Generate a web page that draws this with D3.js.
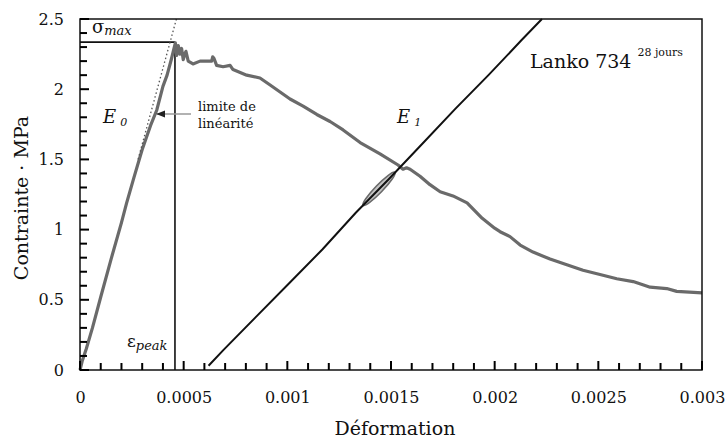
<!DOCTYPE html>
<html><head><meta charset="utf-8">
<script src="https://cdn.jsdelivr.net/npm/d3@7"></script>
<style>
html,body{margin:0;padding:0;background:#fff;}
text{font-family:"DejaVu Serif",serif;fill:#111;}
</style></head>
<body><svg id="c" width="727" height="442"></svg>
<script>
// ---- data ----
const xTicks = [0, 0.0005, 0.001, 0.0015, 0.002, 0.0025, 0.003];
const xTickLabels = ["0", "0.0005", "0.001", "0.0015", "0.002", "0.0025", "0.003"];
const yTicks = [0, 0.5, 1, 1.5, 2, 2.5];
const yTickLabels = ["0", "0.5", "1", "1.5", "2", "2.5"];
const xMinor = [0,0.0001,0.0002,0.0003,0.0004,0.0005,0.0006,0.0007,0.0008,0.0009,0.001,0.0011,0.0012,0.0013,0.0014,0.0015,
  0.0016,0.0017,0.0018,0.0019,0.002,0.0021,0.0022,0.0023,0.0024,0.0025,0.0026,0.0027,0.0028,0.0029,0.003];
const yMinor = [0,0.1,0.2,0.3,0.4,0.5,0.6,0.7,0.8,0.9,1,1.1,1.2,1.3,1.4,1.5,1.6,1.7,1.8,1.9,2,2.1,2.2,2.3,2.4,2.5];

// measured stress–strain curve (strain, stress MPa)
const curveStrain = [0,0.00001,0.00003,0.00006,0.0001,0.00015,0.0002,0.000225,0.00026,0.0003,0.00034,0.00037,0.0004,0.00042,0.00044,0.00046,
 0.000466,0.000474,0.000482,0.00049,0.000498,0.000505,0.000511,0.000522,0.000545,0.000579,0.000635,0.00064,0.000646,0.000659,0.00069,0.000724,0.000738,
 0.000804,0.000868,0.000917,0.000965,0.001013,0.001076,0.001142,0.001206,0.001269,0.001351,0.001447,0.001534,0.001558,0.001575,0.001592,0.00164,
 0.001688,0.001737,0.001799,0.001867,0.00194,0.002,0.002026,0.002074,0.002123,0.002185,0.002267,0.002348,0.002426,0.002508,0.002589,0.002668,
 0.00275,0.00283,0.002878,0.003];
const curveStress = [0,0.06,0.15,0.3,0.52,0.79,1.05,1.19,1.37,1.57,1.74,1.85,2.02,2.1,2.21,2.33,
 2.24,2.31,2.25,2.29,2.21,2.25,2.27,2.2,2.18,2.2,2.2,2.23,2.22,2.17,2.16,2.17,2.14,
 2.1,2.08,2.03,1.98,1.93,1.88,1.82,1.77,1.71,1.62,1.54,1.46,1.43,1.44,1.43,1.38,
 1.32,1.27,1.24,1.19,1.08,1.01,0.985,0.95,0.89,0.84,0.79,0.75,0.71,0.68,0.65,0.63,
 0.59,0.58,0.56,0.55];

// unloading/secant line E1
const e1Strain = [0.00062,0.00069,0.00085,0.00101,0.00117,0.00133,0.00149,0.00165,0.00181,0.00197,0.00213,0.002228];
const e1Stress = [0.03,0.14,0.38,0.62,0.86,1.12,1.36,1.61,1.86,2.1,2.35,2.5];

// tangent E0 (dotted)
const e0Strain = [0.00028, 0.000465];
const e0Stress = [1.5, 2.5];

const peakStrain = 0.000458, peakStress = 2.335;
const ellipseCenter = [0.001442, 1.29];

// ---- layout ----
const svg = d3.select("#c");
const L = 80, R = 702, T = 19, B = 370;
const x = d3.scaleLinear().domain([0, 0.003]).range([L, R]);
const y = d3.scaleLinear().domain([0, 2.5]).range([B, T]);

svg.append("rect").attr("width", 727).attr("height", 442).attr("fill", "#fff");

// tick labels via d3 axes
const xAxis = d3.axisBottom(x).tickValues(xTicks).tickSize(0).tickPadding(22)
  .tickFormat((d, i) => xTickLabels[i]);
const yAxis = d3.axisLeft(y).tickValues(yTicks).tickSize(0).tickPadding(16)
  .tickFormat((d, i) => yTickLabels[i]);
function styleAxis(g) {
  g.select(".domain").remove();
  g.selectAll(".tick line").remove();
  g.selectAll("text").attr("font-family", "DejaVu Serif").attr("font-size", 16).attr("fill", "#111");
}
svg.append("g").attr("transform", `translate(0,${B})`).call(xAxis).call(styleAxis);
svg.append("g").attr("transform", `translate(${L},0)`).call(yAxis).call(styleAxis);

// axis titles
svg.append("text").attr("x", (L + R) / 2 + 4).attr("y", 435).attr("text-anchor", "middle")
  .attr("font-size", 19).text("Déformation");
svg.append("text").attr("transform", "translate(28,198) rotate(-90)").attr("text-anchor", "middle")
  .attr("font-size", 19).text("Contrainte · MPa");

// peak lines
svg.append("line").attr("x1", x(peakStrain)).attr("x2", x(peakStrain)).attr("y1", y(0)).attr("y2", y(peakStress))
  .attr("stroke", "#111").attr("stroke-width", 1.6);
svg.append("line").attr("x1", x(0)).attr("x2", x(peakStrain)).attr("y1", y(peakStress)).attr("y2", y(peakStress))
  .attr("stroke", "#111").attr("stroke-width", 1.6);

// measured curve
const line = d3.line().x(d => x(d[0])).y(d => y(d[1]));
const curve = curveStrain.map((s, i) => [s, curveStress[i]]);
svg.append("path").attr("d", line(curve)).attr("fill", "none").attr("stroke", "#6a6a6a")
  .attr("stroke-width", 3.2).attr("stroke-linejoin", "round");

// E0 dotted tangent
svg.append("path").attr("d", line(e0Strain.map((s, i) => [s, e0Stress[i]])))
  .attr("fill", "none").attr("stroke", "#555").attr("stroke-width", 1.3).attr("stroke-dasharray", "1.5,2.5");

// ellipse
const e1 = e1Strain.map((s, i) => [s, e1Stress[i]]);
const ang = Math.atan2(y(e1[e1.length - 1][1]) - y(e1[0][1]), x(e1[e1.length - 1][0]) - x(e1[0][0])) * 180 / Math.PI;
svg.append("ellipse").attr("cx", 0).attr("cy", 0).attr("rx", 23).attr("ry", 3.8)
  .attr("transform", `translate(${x(ellipseCenter[0])},${y(ellipseCenter[1])}) rotate(${ang})`)
  .attr("fill", "#c4c4c4").attr("stroke", "#6a6a6a").attr("stroke-width", 1.6);

// E1 line
svg.append("path").attr("d", line(e1)).attr("fill", "none").attr("stroke", "#111").attr("stroke-width", 2);

// frame
svg.append("rect").attr("x", L).attr("y", T).attr("width", R - L).attr("height", B - T)
  .attr("fill", "none").attr("stroke", "#111").attr("stroke-width", 1.5);

// tick marks (inward)
const isMajor = (arr, d) => arr.some(t => Math.abs(t - d) < 1e-9);
const ticksG = svg.append("g").attr("stroke", "#000").attr("stroke-width", 2);
ticksG.selectAll("line.xt").data(xMinor).join("line").attr("class", "xt")
  .attr("x1", d => x(d)).attr("x2", d => x(d))
  .attr("y1", B).attr("y2", d => B - (isMajor(xTicks, d) ? 9 : 7));
ticksG.selectAll("line.yt").data(yMinor).join("line").attr("class", "yt")
  .attr("y1", d => y(d)).attr("y2", d => y(d))
  .attr("x1", L).attr("x2", d => L + (isMajor(yTicks, d) ? 9 : 7));

// arrow: limite de linéarité
svg.append("defs").append("marker").attr("id", "ah").attr("viewBox", "0 0 10 10").attr("refX", 9).attr("refY", 5)
  .attr("markerWidth", 6).attr("markerHeight", 6).attr("orient", "auto")
  .append("path").attr("d", "M0,1 L10,5 L0,9 z").attr("fill", "#222");
svg.append("line").attr("x1", 191).attr("y1", 114).attr("x2", 157).attr("y2", 114)
  .attr("stroke", "#999").attr("stroke-width", 1.5).attr("marker-end", "url(#ah)");
svg.append("text").attr("x", 198).attr("y", 111).attr("font-size", 13).text("limite de");
svg.append("text").attr("x", 198).attr("y", 128).attr("font-size", 13).text("linéarité");

// labels
const sm = svg.append("text").attr("x", 92).attr("y", 33).attr("font-size", 18);
sm.append("tspan").text("σ");
sm.append("tspan").attr("font-style", "italic").attr("font-size", 13).attr("dy", 2).text("max");

const e0 = svg.append("text").attr("x", 103).attr("y", 123).attr("font-size", 18).attr("font-style", "italic");
e0.append("tspan").text("E");
e0.append("tspan").attr("font-size", 11).attr("dx", 4).attr("dy", 3).text("0");

const e1t = svg.append("text").attr("x", 397).attr("y", 123).attr("font-size", 18).attr("font-style", "italic");
e1t.append("tspan").text("E");
e1t.append("tspan").attr("font-size", 11).attr("dx", 4).attr("dy", 3).text("1");

const ep = svg.append("text").attr("x", 127).attr("y", 347).attr("font-size", 17);
ep.append("tspan").text("ε");
ep.append("tspan").attr("font-style", "italic").attr("font-size", 13).attr("dy", 3).text("peak");

const lk = svg.append("text").attr("x", 530).attr("y", 68).attr("font-size", 19);
lk.append("tspan").text("Lanko 734");
lk.append("tspan").attr("font-size", 11).attr("dx", 6).attr("dy", -12).text("28 jours");
</script></body></html>
